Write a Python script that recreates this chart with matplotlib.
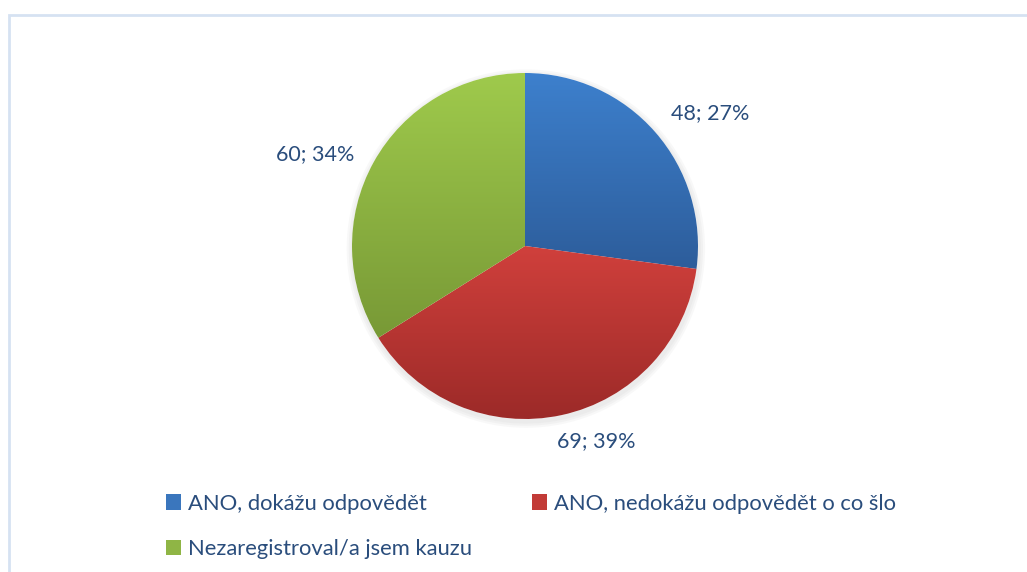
import numpy as np
import matplotlib.pyplot as plt
from matplotlib.colors import LinearSegmentedColormap
from matplotlib.patches import Patch, Rectangle, Circle

plt.rcParams['font.family'] = ['Lato', 'DejaVu Sans']

categories = ['ANO, dokážu odpovědět', 'ANO, nedokážu odpovědět o co šlo',
              'Nezaregistroval/a jsem kauzu']
values = [48, 69, 60]
# top / bottom colours of the vertical gradient in each wedge
grad_top = ['#3d80cd', '#d0403c', '#9fca4c']
grad_bottom = ['#2d5d9b', '#9c2a28', '#789936']
legend_colors = ['#3a76bd', '#c23b37', '#8fb545']
# label positions (data units, pie radius = 1)
label_pos = [(1.07, 0.77), (0.41, -1.13), (-1.21, 0.53)]
text_color = '#2a4d7c'

W, H = 1027, 572
fig = plt.figure(figsize=(W / 100, H / 100), dpi=100)

# chart frame
fig.patches.append(Rectangle((9 / W, -0.1), 1.2, 1 - 15 / H + 0.1,
                             transform=fig.transFigure, fill=False,
                             edgecolor='#d6e2f2', linewidth=2))

cx, cy, r = 525, 246, 173
ax = fig.add_axes([(cx - r) / W, (H - cy - r) / H, 2 * r / W, 2 * r / H])
ax.set_xlim(-1, 1)
ax.set_ylim(-1, 1)
ax.set_aspect('equal')
ax.axis('off')

# soft shadow
for k in range(3):
    ax.add_patch(Circle((0.005, -0.015), 1.0 + 0.012 * (k + 1), color='#808080',
                        alpha=0.05, lw=0, zorder=0, clip_on=False))
ax.add_patch(Circle((0, 0), 1.0, color='white', lw=0, zorder=0.5))

wedges, _ = ax.pie(values, startangle=90, counterclock=False, radius=1,
                   wedgeprops=dict(linewidth=0))

for w, top, bot in zip(wedges, grad_top, grad_bottom):
    w.set_facecolor('none')
    ext = w.get_path().transformed(w.get_patch_transform()).get_extents()
    cmap = LinearSegmentedColormap.from_list('g', [bot, top])
    grad = np.linspace(0, 1, 256).reshape(-1, 1)
    im = ax.imshow(grad, cmap=cmap, origin='lower', aspect='auto',
                   extent=[ext.x0, ext.x1, ext.y0, ext.y1], zorder=1,
                   interpolation='bilinear')
    im.set_clip_path(w)

ax.set_xlim(-1, 1)
ax.set_ylim(-1, 1)

total = sum(values)
for v, (lx, ly) in zip(values, label_pos):
    ax.text(lx, ly, f'{v}; {round(100 * v / total)}%', ha='center', va='center',
            fontsize=15.5, color=text_color)

order = [0, 2, 1]
handles = [Patch(facecolor=legend_colors[i], edgecolor='none') for i in order]
labels = [categories[i] for i in order]
fig.legend(handles, labels, ncol=2, loc='upper left',
           bbox_to_anchor=(146 / W, 1 - 474 / H), frameon=False,
           fontsize=15.8, labelcolor=text_color, handlelength=0.7,
           handleheight=0.7, handletextpad=0.3, columnspacing=2.75,
           labelspacing=1.15)

fig.savefig('out.png', dpi=100)
